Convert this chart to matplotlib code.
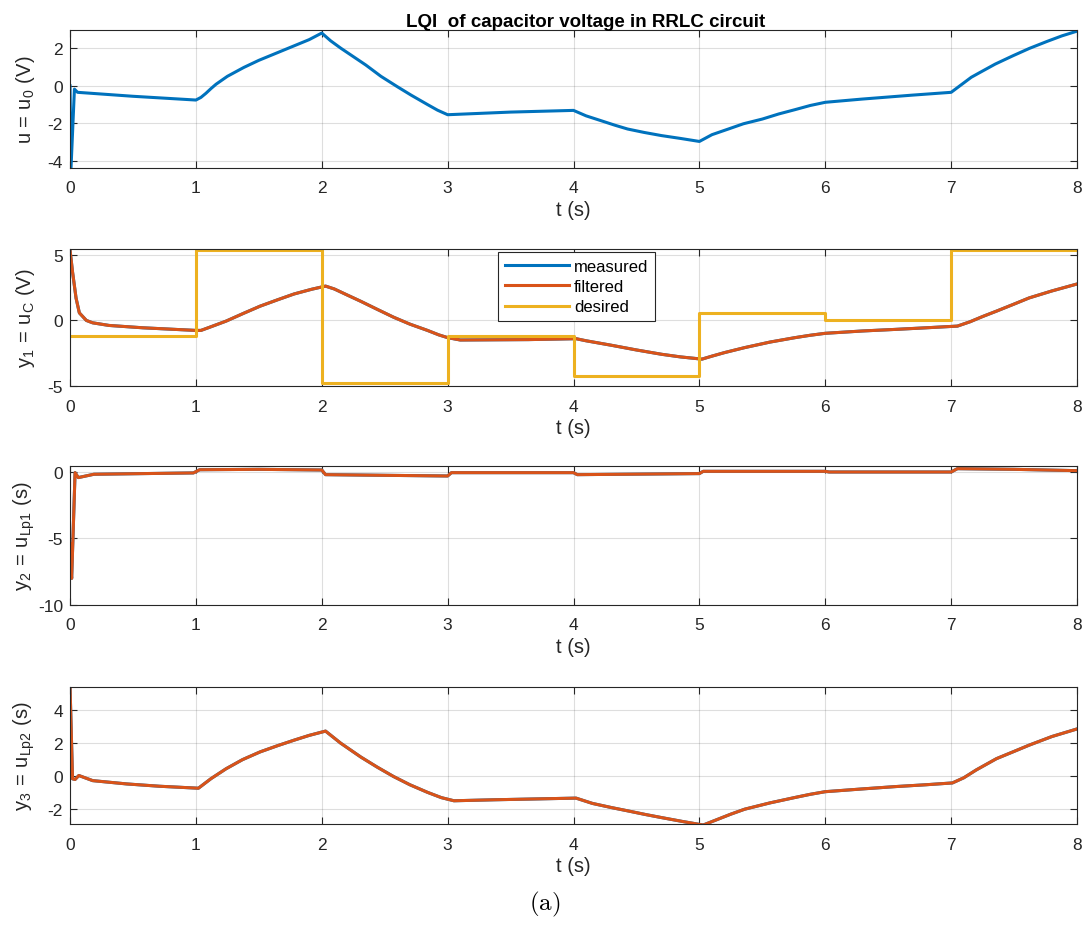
import numpy as np
import matplotlib
matplotlib.use('Agg')
import matplotlib.pyplot as plt

plt.rcParams['font.family'] = ['Liberation Sans', 'DejaVu Sans']
plt.rcParams['mathtext.fontset'] = 'cm'
plt.rcParams['axes.unicode_minus'] = False

# --- data ---
# control input u
u_t = [0, 0.008, 0.035, 0.06, 0.5, 1.0, 1.04, 1.08, 1.12, 1.16, 1.25, 1.38, 1.5, 1.62, 1.78, 1.9, 2.0,
       2.07, 2.15, 2.25, 2.35, 2.47, 2.6, 2.71, 2.84, 2.92, 3.0, 3.5, 4.0, 4.1, 4.22, 4.33, 4.43,
       4.56, 4.7, 4.85, 5.0, 5.1, 5.23, 5.35, 5.5, 5.63, 5.76, 5.88, 6.0, 6.29, 6.69, 7.0, 7.05,
       7.1, 7.16, 7.23, 7.35, 7.49, 7.62, 7.76, 7.88, 8.0]
u_v = [0, -4.35, -0.18, -0.35, -0.56, -0.76, -0.62, -0.4, -0.15, 0.08, 0.5, 0.97, 1.35, 1.68, 2.12, 2.45, 2.8,
       2.39, 2.0, 1.55, 1.1, 0.5, -0.05, -0.5, -1.0, -1.3, -1.54, -1.4, -1.31, -1.6, -1.86, -2.1, -2.3,
       -2.48, -2.65, -2.8, -2.96, -2.6, -2.3, -2.02, -1.77, -1.5, -1.27, -1.05, -0.88, -0.71, -0.5, -0.35, -0.1,
       0.15, 0.45, 0.71, 1.15, 1.59, 1.98, 2.35, 2.65, 2.9]

# y1 = capacitor voltage
y1_t = [0, 0.02, 0.048, 0.074, 0.13, 0.18, 0.31, 0.58, 1.0, 1.04, 1.1, 1.24, 1.38, 1.51, 1.65, 1.78,
        1.92, 2.03, 2.1, 2.2, 2.31, 2.44, 2.57, 2.7, 2.84, 2.93, 3.0, 3.1, 3.64, 4.02, 4.1, 4.3,
        4.5, 4.7, 4.85, 5.02, 5.1, 5.2, 5.36, 5.56, 5.76, 5.88, 6.0, 6.3, 6.56, 6.8, 7.05, 7.15,
        7.25, 7.36, 7.5, 7.62, 7.8, 8.0]
y1_v = [5.38, 3.7, 1.7, 0.58, 0.0, -0.18, -0.38, -0.56, -0.76, -0.76, -0.55, -0.05, 0.55, 1.09, 1.58, 2.02,
        2.38, 2.62, 2.4, 1.95, 1.46, 0.85, 0.25, -0.28, -0.76, -1.1, -1.31, -1.49, -1.46, -1.39, -1.55, -1.89,
        -2.25, -2.58, -2.78, -2.95, -2.72, -2.45, -2.07, -1.65, -1.31, -1.13, -0.98, -0.8, -0.68, -0.56, -0.43, -0.1,
        0.3, 0.71, 1.25, 1.72, 2.25, 2.78]

# reference (desired) levels, one per second
d_t = [0, 1, 2, 3, 4, 5, 6, 7, 8]
d_v = [-1.2, 5.4, -4.8, -1.2, -4.2, 0.6, 0.0, 5.4, 5.4]

# y2 = u_Lp1
y2_t = [0, 0.005, 0.013, 0.04, 0.066, 0.19, 0.98, 1.03, 1.5, 2.0, 2.03, 2.5, 3.0, 3.03,
        4.0, 4.03, 5.0, 5.03, 6.0, 6.03, 7.0, 7.05, 7.5, 8.0]
y2_v = [-5.4, -7.0, -8.0, -0.05, -0.42, -0.17, -0.07, 0.17, 0.2, 0.15, -0.2, -0.25, -0.3, -0.05,
        -0.05, -0.2, -0.12, 0.05, 0.05, 0.0, 0.0, 0.25, 0.2, 0.1]

# y3 = u_Lp2
y3_t = [0, 0.02, 0.04, 0.07, 0.18, 0.45, 0.71, 1.02, 1.12, 1.24, 1.37, 1.51, 1.65, 1.78, 1.9, 2.03,
        2.15, 2.31, 2.44, 2.57, 2.7, 2.84, 2.95, 3.05, 3.37, 4.02, 4.15, 4.3, 4.43, 4.57, 4.7, 4.87,
        5.03, 5.15, 5.25, 5.36, 5.56, 5.76, 5.88, 6.0, 6.3, 6.56, 6.8, 7.01, 7.1, 7.2, 7.36, 7.5,
        7.62, 7.8, 8.0]
y3_v = [5.45, -0.16, -0.2, 0.04, -0.27, -0.47, -0.61, -0.73, -0.15, 0.45, 1.0, 1.47, 1.85, 2.18, 2.47, 2.73,
        2.0, 1.16, 0.55, -0.02, -0.52, -0.98, -1.3, -1.49, -1.43, -1.33, -1.65, -1.9, -2.1, -2.32, -2.51, -2.75,
        -2.96, -2.6, -2.3, -2.0, -1.62, -1.29, -1.1, -0.94, -0.77, -0.63, -0.52, -0.41, -0.1, 0.38, 1.06, 1.5,
        1.88, 2.4, 2.86]

blue = '#0072BD'
orange = '#D95319'
yellow = '#EDB120'
dark = '#262626'

fig = plt.figure(figsize=(10.89, 9.29), dpi=100)

left, width = 0.0643, 0.9247
bottoms = [0.8181, 0.5834, 0.3477, 0.1119]
heights = [0.1485, 0.1475, 0.1496, 0.1475]
axs = [fig.add_axes([left, b, width, h]) for b, h in zip(bottoms, heights)]

# --- panel 1 ---
axs[0].plot(u_t, u_v, color=blue, lw=2.2)
axs[0].set_ylim(-4.37, 2.96)
axs[0].set_yticks([-4, -2, 0, 2])
axs[0].set_ylabel(r'u = u$_\mathregular{0}$ (V)')
axs[0].set_title('LQI  of capacitor voltage in RRLC circuit', fontweight='bold',
                 fontsize=13.5, color='black', pad=3, x=0.512)

# --- panel 2 ---
axs[1].plot(y1_t, y1_v, color=blue, lw=2.2, label='measured')
axs[1].plot(y1_t, y1_v, color=orange, lw=2.2, label='filtered')
axs[1].plot(d_t, d_v, color=yellow, lw=2.2, drawstyle='steps-post', label='desired')
axs[1].set_ylim(-5, 5.45)
axs[1].set_yticks([-5, 0, 5])
axs[1].set_ylabel(r'y$_\mathregular{1}$ = u$_\mathregular{C}$ (V)')
leg = axs[1].legend(loc='upper left', bbox_to_anchor=(0.425, 0.978), fancybox=False,
                    edgecolor=dark, framealpha=1, fontsize=12, handlelength=3.85,
                    borderpad=0.4, labelspacing=0.32, handletextpad=0.3, borderaxespad=0)
leg.get_frame().set_linewidth(0.8)

# --- panel 3 ---
axs[2].plot(y2_t, y2_v, color=blue, lw=2.2)
axs[2].plot(y2_t, y2_v, color=orange, lw=2.2)
axs[2].set_ylim(-10, 0.45)
axs[2].set_yticks([-10, -5, 0])
axs[2].set_ylabel(r'y$_\mathregular{2}$ = u$_\mathregular{Lp1}$ (s)')

# --- panel 4 ---
axs[3].plot(y3_t, y3_v, color=blue, lw=2.2)
axs[3].plot(y3_t, y3_v, color=orange, lw=2.2)
axs[3].set_ylim(-2.9, 5.4)
axs[3].set_yticks([-2, 0, 2, 4])
axs[3].set_ylabel(r'y$_\mathregular{3}$ = u$_\mathregular{Lp2}$ (s)')

for ax in axs:
    ax.set_xlim(0, 8)
    ax.set_xticks(range(9))
    ax.set_xlabel('t (s)', fontsize=14.5, color=dark, labelpad=3)
    ax.grid(True, color=dark, alpha=0.15, lw=0.8)
    ax.tick_params(direction='in', top=True, right=True, length=5, width=0.8,
                   colors=dark, labelsize=12.5, pad=5)
    ax.tick_params(axis='x', pad=9)
    ax.yaxis.label.set_color(dark)
    ax.yaxis.label.set_size(14.5)
    for s in ax.spines.values():
        s.set_color(dark)
        s.set_linewidth(0.8)
    ax.yaxis.set_label_coords(-0.033, 0.5)

fig.text(0.5, 0.026, r'$\mathrm{(a)}$', ha='center', va='center', fontsize=18)

fig.savefig('out.png', dpi=100)
